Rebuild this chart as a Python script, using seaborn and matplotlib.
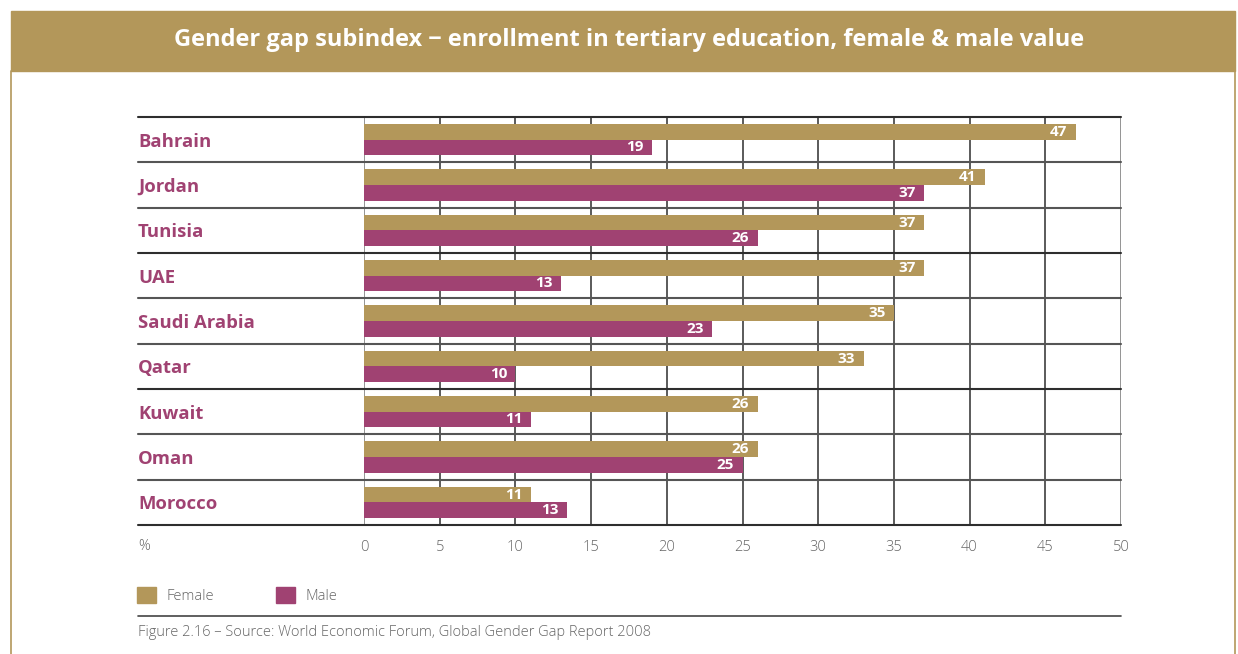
import matplotlib
matplotlib.use("Agg")
import matplotlib.pyplot as plt
import matplotlib.patches as mpatches
import matplotlib.lines as mlines
import matplotlib.transforms as mtransforms
import seaborn as sns
import pandas as pd

countries = ["Bahrain", "Jordan", "Tunisia", "UAE", "Saudi Arabia", "Qatar", "Kuwait", "Oman", "Morocco"]
female = [47, 41, 37, 37, 35, 33, 26, 26, 11]
male = [19, 37, 26, 13, 23, 10, 11, 25, 13.4]
xticks = [0, 5, 10, 15, 20, 25, 30, 35, 40, 45, 50]
title = "Gender gap subindex \u2212 enrollment in tertiary education, female & male value"
caption = "Figure 2.16 \u2013 Source: World Economic Forum, Global Gender Gap Report 2008"

GOLD = "#B3975A"
MAG = "#A04272"
GRID = "#2e2e2e"
GRAY = "#666666"

df = pd.DataFrame({
    "country": countries * 2,
    "sex": ["Female"] * len(countries) + ["Male"] * len(countries),
    "value": female + male,
})

sns.set_theme(style="white")
plt.rcParams["font.family"] = ["Open Sans", "DejaVu Sans"]

W, H = 1238, 654
fig = plt.figure(figsize=(W / 100, H / 100), dpi=100)

def fx(x):
    return x / W

def fy(y):
    return 1 - y / H

# header band and frame
fig.patches.append(mpatches.Rectangle((fx(11), fy(71)), fx(1235) - fx(11), fy(11) - fy(71),
                                      transform=fig.transFigure, color=GOLD, zorder=0))
for xx in (11, 1235):
    fig.lines.append(mlines.Line2D([fx(xx), fx(xx)], [fy(71), 0], transform=fig.transFigure,
                                   color=GOLD, lw=1.2))
fig.text(fx(629), fy(40), title, color="white", fontsize=17.0, fontweight="bold",
         ha="center", va="center")

ax = fig.add_axes([fx(364), fy(525), fx(1121) - fx(364), fy(117) - fy(525)])
sns.barplot(data=df, y="country", x="value", hue="sex", orient="h",
            palette={"Female": GOLD, "Male": MAG}, width=0.69, saturation=1,
            linewidth=0, ax=ax, legend=False, zorder=3)

ax.set_xlim(0, 50)
ax.set_ylim(len(countries) - 0.5, -0.5)
ax.set_xticks(xticks)
ax.set_xticklabels([str(t) for t in xticks], color=GRAY, fontsize=10.5, fontweight="light")
ax.tick_params(axis="x", length=7, width=1, color=GRID, pad=4)
ax.set_xlabel("")
ax.set_ylabel("")
for s in ax.spines.values():
    s.set_visible(False)

# vertical grid lines
for t in xticks:
    ax.axvline(t, color=GRID if t not in (0, 50) else "#777777", lw=1.1, zorder=1)

# horizontal separators extending to the label column
blend = mtransforms.blended_transform_factory(fig.transFigure, ax.transData)
for i in range(len(countries) + 1):
    yy = i - 0.5
    ax.plot([fx(138), fx(1121)], [yy, yy], transform=blend, color="#555555" if i % 3 else GRID,
            lw=1.5, clip_on=False, zorder=2)

# country labels
ax.set_yticks(range(len(countries)))
ax.set_yticklabels(countries, color=MAG, fontsize=13.3, fontweight="bold", ha="left")
ax.tick_params(axis="y", length=0, pad=(364 - 138) * 0.72)

# value labels
for cont in ax.containers:
    ax.bar_label(cont, labels=[f"{v:.0f}" for v in cont.datavalues], padding=-6,
                 color="white", fontsize=11, fontweight="bold", zorder=5)
for txt in ax.texts:
    txt.set_ha("right")

fig.text(fx(138), fy(546), "%", color=GRAY, fontsize=10.5, fontweight="light", va="center")

handles = [mpatches.Patch(color=GOLD, label="Female"), mpatches.Patch(color=MAG, label="Male")]
fig.legend(handles=handles, loc="upper left", bbox_to_anchor=(fx(137), fy(587)), ncol=2,
           frameon=False, handlelength=1.3, handleheight=1.3,
           handletextpad=0.75, columnspacing=4.2, borderpad=0, borderaxespad=0,
           labelcolor=GRAY, prop={"weight": "light", "size": 10.5})

fig.lines.append(mlines.Line2D([fx(138), fx(1121)], [fy(616), fy(616)], transform=fig.transFigure,
                               color="#444444", lw=1.2))
fig.text(fx(138), fy(633), caption, color=GRAY, fontsize=10.5, fontweight="light", va="center")

fig.savefig("out.png", dpi=100)
